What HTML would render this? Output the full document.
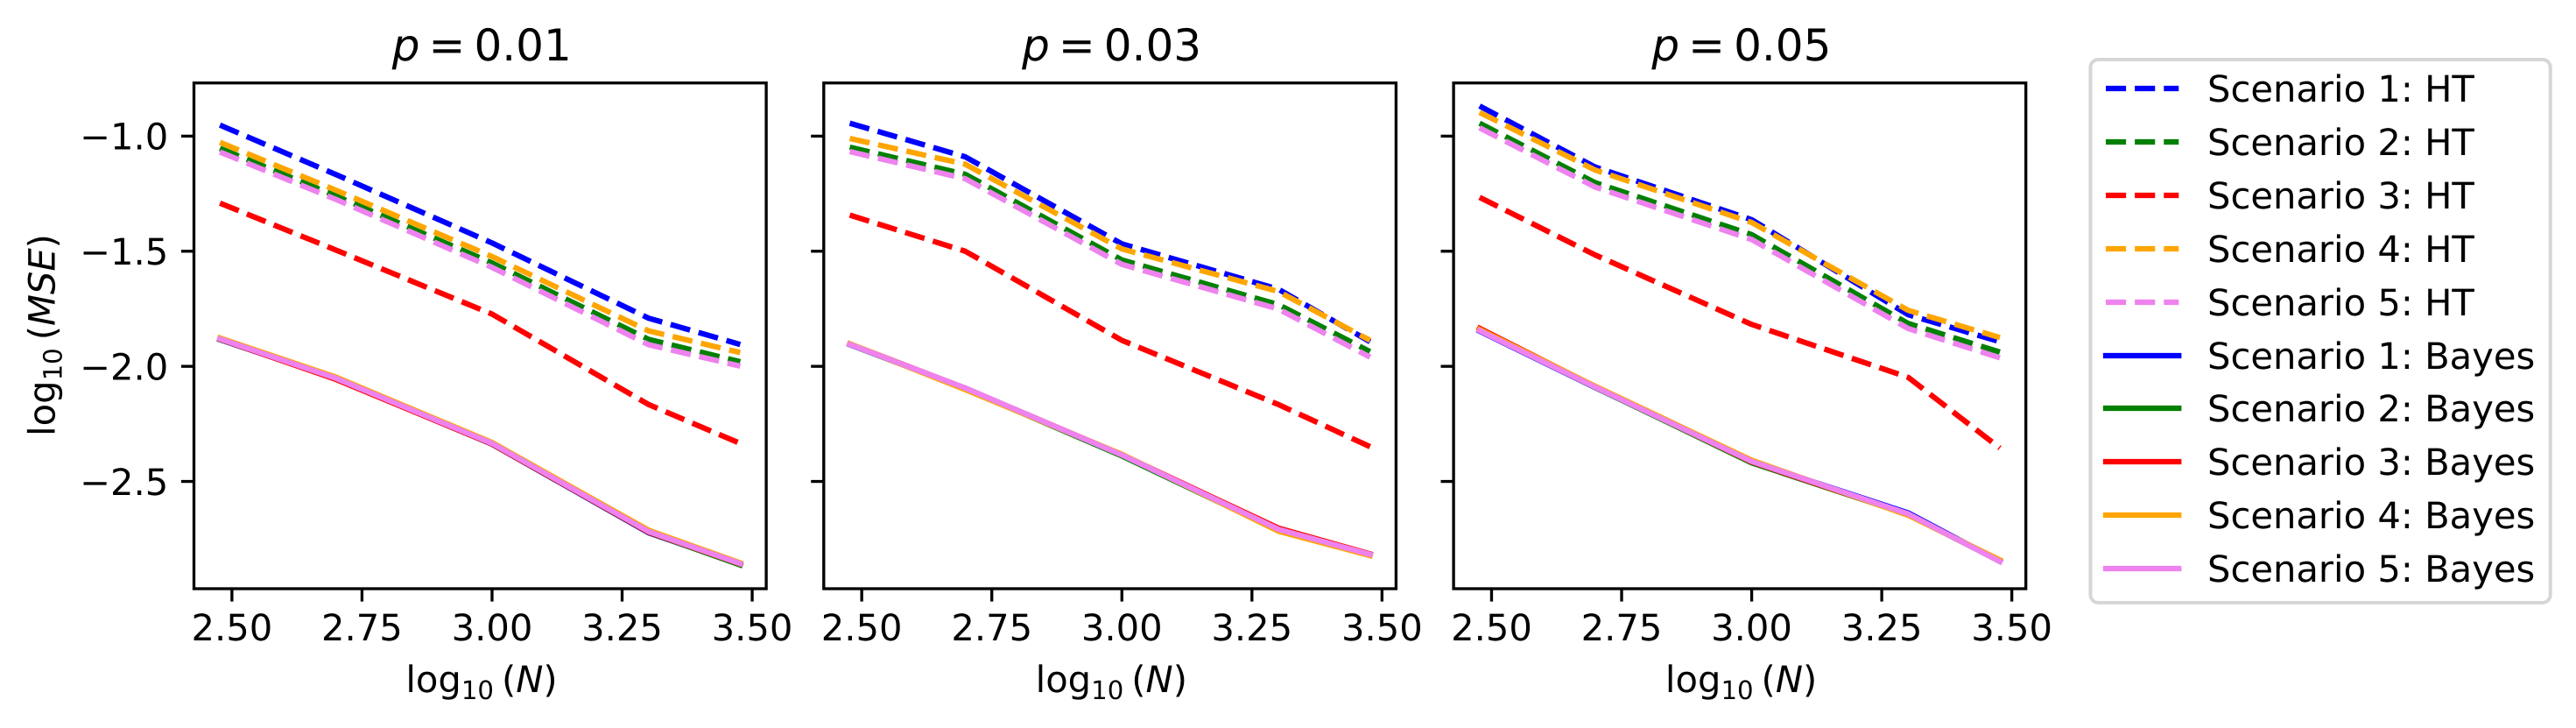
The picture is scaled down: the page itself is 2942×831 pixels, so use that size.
<!DOCTYPE html>
<html lang="en">
<head>
<meta charset="utf-8">
<title>MSE versus N for HT and Bayes estimators</title>
<style>
html,body{margin:0;padding:0;background:#fff;}
svg{display:block;}
text{font-family:"DejaVu Sans","Liberation Sans",sans-serif;fill:#000;text-rendering:geometricPrecision;}
</style>
</head>
<body>
<svg id="chart" xmlns="http://www.w3.org/2000/svg" width="2942" height="831" viewBox="0 0 2942 831">
  <rect x="0" y="0" width="2942" height="831" fill="#fff"/>
  <g id="panels"></g>

  <text x="550.3" y="69" font-size="50" text-anchor="middle"><tspan font-style="italic">p</tspan><tspan dx="10">=</tspan><tspan dx="10">0.01</tspan></text>
  <text x="1269.6" y="69" font-size="50" text-anchor="middle"><tspan font-style="italic">p</tspan><tspan dx="10">=</tspan><tspan dx="10">0.03</tspan></text>
  <text x="1988.9" y="69" font-size="50" text-anchor="middle"><tspan font-style="italic">p</tspan><tspan dx="10">=</tspan><tspan dx="10">0.05</tspan></text>

  <text transform="translate(62.4 382.5) rotate(-90)" x="0" y="0" font-size="41.67" text-anchor="middle">log<tspan font-size="29.17" dy="8">10</tspan><tspan dy="-8" dx="9">(</tspan><tspan font-style="italic">MSE</tspan>)</text>
  <text x="550" y="790" font-size="41.67" text-anchor="middle">log<tspan font-size="29.17" dy="8">10</tspan><tspan dy="-8" dx="9">(</tspan><tspan font-style="italic">N</tspan>)</text>
  <text x="1269.3" y="790" font-size="41.67" text-anchor="middle">log<tspan font-size="29.17" dy="8">10</tspan><tspan dy="-8" dx="9">(</tspan><tspan font-style="italic">N</tspan>)</text>
  <text x="1988.6" y="790" font-size="41.67" text-anchor="middle">log<tspan font-size="29.17" dy="8">10</tspan><tspan dy="-8" dx="9">(</tspan><tspan font-style="italic">N</tspan>)</text>

  <g>
    <rect x="2387.5" y="68" width="525.2" height="620" rx="9" ry="9" fill="#fff" stroke="#d6d6d6" stroke-width="4"/>
    <g>
      <line x1="2405" x2="2488.3" y1="101" y2="101" stroke="#0000ff" stroke-width="6.25" stroke-dasharray="23.125 10"/>
      <text x="2521" y="116" font-size="41.67">Scenario 1: HT</text>
    </g>
    <g>
      <line x1="2405" x2="2488.3" y1="162" y2="162" stroke="#008000" stroke-width="6.25" stroke-dasharray="23.125 10"/>
      <text x="2521" y="177" font-size="41.67">Scenario 2: HT</text>
    </g>
    <g>
      <line x1="2405" x2="2488.3" y1="223" y2="223" stroke="#ff0000" stroke-width="6.25" stroke-dasharray="23.125 10"/>
      <text x="2521" y="238" font-size="41.67">Scenario 3: HT</text>
    </g>
    <g>
      <line x1="2405" x2="2488.3" y1="284" y2="284" stroke="#ffa500" stroke-width="6.25" stroke-dasharray="23.125 10"/>
      <text x="2521" y="299" font-size="41.67">Scenario 4: HT</text>
    </g>
    <g>
      <line x1="2405" x2="2488.3" y1="345" y2="345" stroke="#ee82ee" stroke-width="6.25" stroke-dasharray="23.125 10"/>
      <text x="2521" y="360" font-size="41.67">Scenario 5: HT</text>
    </g>
    <g>
      <line x1="2405" x2="2488.3" y1="406" y2="406" stroke="#0000ff" stroke-width="6.25" stroke-linecap="square"/>
      <text x="2521" y="421" font-size="41.67">Scenario 1: Bayes</text>
    </g>
    <g>
      <line x1="2405" x2="2488.3" y1="466" y2="466" stroke="#008000" stroke-width="6.25" stroke-linecap="square"/>
      <text x="2521" y="481" font-size="41.67">Scenario 2: Bayes</text>
    </g>
    <g>
      <line x1="2405" x2="2488.3" y1="527" y2="527" stroke="#ff0000" stroke-width="6.25" stroke-linecap="square"/>
      <text x="2521" y="542" font-size="41.67">Scenario 3: Bayes</text>
    </g>
    <g>
      <line x1="2405" x2="2488.3" y1="588" y2="588" stroke="#ffa500" stroke-width="6.25" stroke-linecap="square"/>
      <text x="2521" y="603" font-size="41.67">Scenario 4: Bayes</text>
    </g>
    <g>
      <line x1="2405" x2="2488.3" y1="649" y2="649" stroke="#ee82ee" stroke-width="6.25" stroke-linecap="square"/>
      <text x="2521" y="664" font-size="41.67">Scenario 5: Bayes</text>
    </g>
  </g>
</svg>
<script>
// Shared x categories and tick labels
const logN = [2.477, 2.699, 3.0, 3.301, 3.477];
const xTicks = [2.5, 2.75, 3.0, 3.25, 3.5];
const xTickLabels = ['2.50', '2.75', '3.00', '3.25', '3.50'];
const yTicks = [-1.0, -1.5, -2.0, -2.5];
const yTickLabels = ['\u22121.0', '\u22121.5', '\u22122.0', '\u22122.5'];

// p = 0.01
const p01HtS1 = [-0.952, -1.166, -1.464, -1.791, -1.905];
const p01HtS2 = [-1.053, -1.259, -1.551, -1.883, -1.980];
const p01HtS3 = [-1.291, -1.494, -1.773, -2.166, -2.335];
const p01HtS4 = [-1.027, -1.234, -1.523, -1.846, -1.940];
const p01HtS5 = [-1.069, -1.274, -1.570, -1.906, -1.999];
const p01BayesS1 = [-1.884, -2.053, -2.338, -2.723, -2.860];
const p01BayesS2 = [-1.883, -2.052, -2.337, -2.721, -2.863];
const p01BayesS3 = [-1.882, -2.056, -2.337, -2.720, -2.858];
const p01BayesS4 = [-1.877, -2.046, -2.331, -2.712, -2.854];
const p01BayesS5 = [-1.881, -2.051, -2.335, -2.718, -2.857];

// p = 0.03
const p03HtS1 = [-0.944, -1.090, -1.468, -1.665, -1.893];
const p03HtS2 = [-1.048, -1.166, -1.538, -1.732, -1.936];
const p03HtS3 = [-1.343, -1.500, -1.887, -2.166, -2.349];
const p03HtS4 = [-1.010, -1.122, -1.490, -1.675, -1.887];
const p03HtS5 = [-1.067, -1.185, -1.557, -1.751, -1.960];
const p03BayesS1 = [-1.906, -2.095, -2.388, -2.711, -2.818];
const p03BayesS2 = [-1.905, -2.097, -2.389, -2.712, -2.820];
const p03BayesS3 = [-1.903, -2.095, -2.384, -2.703, -2.815];
const p03BayesS4 = [-1.902, -2.101, -2.382, -2.716, -2.822];
const p03BayesS5 = [-1.905, -2.094, -2.385, -2.708, -2.817];

// p = 0.05
const p05HtS1 = [-0.869, -1.134, -1.363, -1.776, -1.893];
const p05HtS2 = [-0.944, -1.202, -1.428, -1.814, -1.938];
const p05HtS3 = [-1.266, -1.516, -1.818, -2.048, -2.355];
const p05HtS4 = [-0.897, -1.147, -1.375, -1.757, -1.875];
const p05HtS5 = [-0.964, -1.221, -1.449, -1.836, -1.963];
const p05BayesS1 = [-1.847, -2.092, -2.414, -2.637, -2.847];
const p05BayesS2 = [-1.843, -2.091, -2.419, -2.644, -2.846];
const p05BayesS3 = [-1.835, -2.088, -2.415, -2.644, -2.845];
const p05BayesS4 = [-1.840, -2.086, -2.408, -2.647, -2.841];
const p05BayesS5 = [-1.845, -2.090, -2.413, -2.641, -2.848];

const panelKeys = ['p-001', 'p-003', 'p-005'];
const htSeries = [
  [p01HtS1, p01HtS2, p01HtS3, p01HtS4, p01HtS5],
  [p03HtS1, p03HtS2, p03HtS3, p03HtS4, p03HtS5],
  [p05HtS1, p05HtS2, p05HtS3, p05HtS4, p05HtS5]
];
const bayesSeries = [
  [p01BayesS1, p01BayesS2, p01BayesS3, p01BayesS4, p01BayesS5],
  [p03BayesS1, p03BayesS2, p03BayesS3, p03BayesS4, p03BayesS5],
  [p05BayesS1, p05BayesS2, p05BayesS3, p05BayesS4, p05BayesS5]
];
const colors = ['#0000ff', '#008000', '#ff0000', '#ffa500', '#ee82ee'];

const NS = 'http://www.w3.org/2000/svg';
const panelLeft = [221.5, 940.8, 1660.1];
const panelWidth = 653.6;
const panelTop = 94.7;
const panelBottom = 672;
const tickLen = 14.6;
const xDomain = [2.427, 3.527];
const yDomain = [-0.769, -2.966];

function xScale(panel, v) {
  return panelLeft[panel] + (v - xDomain[0]) / (xDomain[1] - xDomain[0]) * panelWidth;
}
function yScale(v) {
  return panelTop + (v - yDomain[0]) / (yDomain[1] - yDomain[0]) * (panelBottom - panelTop);
}
function make(tag, attrs, parent) {
  const el = document.createElementNS(NS, tag);
  Object.keys(attrs).forEach(function (k) { el.setAttribute(k, attrs[k]); });
  parent.appendChild(el);
  return el;
}
function linePath(panel, values) {
  return values.map(function (v, i) {
    return (i ? 'L' : 'M') + xScale(panel, logN[i]).toFixed(2) + ' ' + yScale(v).toFixed(2);
  }).join(' ');
}

const root = document.getElementById('panels');

panelKeys.forEach(function (key, p) {
  const group = make('g', {}, root);
  
  

  htSeries[p].forEach(function (values, s) {
    const path = make('path', {
      d: linePath(p, values), fill: 'none', stroke: colors[s], 'stroke-width': 6.25,
      'stroke-dasharray': '23.125 10', 'stroke-linejoin': 'round', 'stroke-linecap': 'butt'
    }, group);
    
    
  });

  bayesSeries[p].forEach(function (values, s) {
    const path = make('path', {
      d: linePath(p, values), fill: 'none', stroke: colors[s], 'stroke-width': 6.25,
      'stroke-linejoin': 'round', 'stroke-linecap': 'square'
    }, group);
    
    
  });

  const frame = make('rect', {
    x: panelLeft[p], y: panelTop, width: panelWidth, height: panelBottom - panelTop,
    fill: 'none', stroke: '#000', 'stroke-width': 3.33
  }, group);
  
  

  xTicks.forEach(function (t, i) {
    const x = xScale(p, t);
    const mark = make('line', {
      x1: x, x2: x, y1: panelBottom, y2: panelBottom + tickLen, stroke: '#000', 'stroke-width': 3.33
    }, group);
    
    
    const label = make('text', { x: x, y: 731, 'font-size': 41.67, 'text-anchor': 'middle' }, group);
    
    
    label.textContent = xTickLabels[i];
  });

  yTicks.forEach(function (t, i) {
    const y = yScale(t);
    const mark = make('line', {
      x1: panelLeft[p] - tickLen, x2: panelLeft[p], y1: y, y2: y, stroke: '#000', 'stroke-width': 3.33
    }, group);
    
    
    if (p === 0) {
      const label = make('text', {
        x: panelLeft[p] - tickLen - 14.6, y: y + 15.2, 'font-size': 41.67, 'text-anchor': 'end'
      }, group);
      
      
      label.textContent = yTickLabels[i];
    }
  });
});
</script>
</body>
</html>
